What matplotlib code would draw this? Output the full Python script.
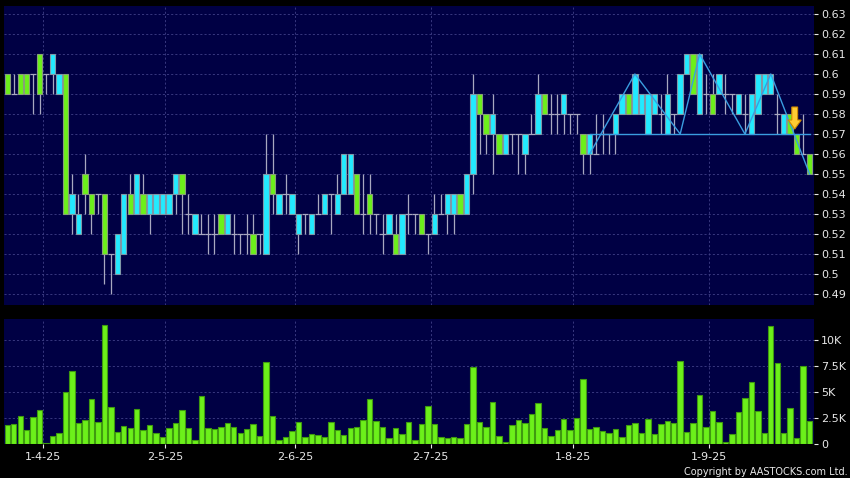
import matplotlib
matplotlib.use("Agg")
import matplotlib.pyplot as plt
from matplotlib.patches import Polygon

# daily candles: open, high, low, close
opens = [0.60, 0.59, 0.60, 0.60, 0.60, 0.61, 0.60, 0.60, 0.59, 0.60,
         0.53, 0.52, 0.55, 0.54, 0.54, 0.54, 0.51, 0.50, 0.51, 0.54,
         0.53, 0.54, 0.53, 0.53, 0.53, 0.53, 0.54, 0.55, 0.53, 0.52,
         0.52, 0.52, 0.52, 0.53, 0.52, 0.52, 0.52, 0.52, 0.52, 0.52,
         0.51, 0.55, 0.53, 0.54, 0.53, 0.52, 0.53, 0.52, 0.53, 0.53,
         0.54, 0.53, 0.54, 0.54, 0.55, 0.53, 0.54, 0.53, 0.52, 0.52,
         0.52, 0.51, 0.53, 0.53, 0.53, 0.52, 0.52, 0.53, 0.53, 0.53,
         0.54, 0.53, 0.55, 0.59, 0.58, 0.57, 0.57, 0.56, 0.57, 0.57,
         0.56, 0.57, 0.57, 0.59, 0.58, 0.58, 0.58, 0.58, 0.58, 0.57,
         0.56, 0.56, 0.57, 0.57, 0.57, 0.58, 0.59, 0.58, 0.58, 0.57,
         0.58, 0.58, 0.57, 0.58, 0.58, 0.60, 0.61, 0.58, 0.59, 0.59,
         0.59, 0.59, 0.59, 0.58, 0.58, 0.57, 0.58, 0.59, 0.59, 0.58,
         0.57, 0.58, 0.57, 0.56, 0.56]
highs = [0.60, 0.60, 0.60, 0.60, 0.60, 0.61, 0.60, 0.61, 0.60, 0.60,
         0.55, 0.54, 0.56, 0.54, 0.54, 0.54, 0.51, 0.52, 0.54, 0.55,
         0.55, 0.55, 0.54, 0.54, 0.54, 0.54, 0.55, 0.55, 0.54, 0.53,
         0.53, 0.53, 0.53, 0.53, 0.53, 0.53, 0.52, 0.53, 0.53, 0.52,
         0.57, 0.57, 0.54, 0.55, 0.54, 0.53, 0.53, 0.53, 0.54, 0.54,
         0.54, 0.55, 0.56, 0.56, 0.55, 0.55, 0.55, 0.53, 0.53, 0.53,
         0.53, 0.53, 0.54, 0.53, 0.53, 0.52, 0.54, 0.54, 0.54, 0.54,
         0.54, 0.55, 0.60, 0.59, 0.58, 0.59, 0.57, 0.57, 0.57, 0.57,
         0.57, 0.58, 0.60, 0.59, 0.59, 0.59, 0.59, 0.58, 0.58, 0.57,
         0.57, 0.58, 0.58, 0.57, 0.58, 0.59, 0.59, 0.60, 0.59, 0.59,
         0.59, 0.59, 0.60, 0.58, 0.60, 0.61, 0.61, 0.61, 0.60, 0.60,
         0.60, 0.60, 0.59, 0.59, 0.59, 0.59, 0.60, 0.60, 0.60, 0.59,
         0.58, 0.58, 0.57, 0.58, 0.56]
lows = [0.59, 0.59, 0.59, 0.59, 0.58, 0.58, 0.59, 0.59, 0.59, 0.53,
        0.52, 0.52, 0.53, 0.52, 0.53, 0.495, 0.49, 0.50, 0.51, 0.53,
        0.53, 0.53, 0.52, 0.53, 0.53, 0.53, 0.53, 0.52, 0.52, 0.52,
        0.52, 0.51, 0.51, 0.52, 0.52, 0.51, 0.51, 0.51, 0.51, 0.51,
        0.51, 0.53, 0.53, 0.53, 0.53, 0.51, 0.52, 0.52, 0.53, 0.53,
        0.52, 0.53, 0.54, 0.54, 0.53, 0.52, 0.52, 0.52, 0.51, 0.52,
        0.51, 0.51, 0.52, 0.52, 0.52, 0.51, 0.52, 0.53, 0.52, 0.52,
        0.53, 0.53, 0.54, 0.56, 0.56, 0.55, 0.56, 0.56, 0.56, 0.55,
        0.55, 0.57, 0.57, 0.58, 0.57, 0.57, 0.57, 0.57, 0.57, 0.55,
        0.55, 0.56, 0.56, 0.56, 0.56, 0.58, 0.58, 0.58, 0.58, 0.57,
        0.58, 0.57, 0.57, 0.57, 0.58, 0.60, 0.59, 0.58, 0.58, 0.58,
        0.59, 0.58, 0.58, 0.58, 0.57, 0.57, 0.58, 0.59, 0.59, 0.57,
        0.57, 0.57, 0.56, 0.56, 0.55]
closes = [0.59, 0.59, 0.59, 0.59, 0.60, 0.59, 0.60, 0.61, 0.60, 0.53,
          0.54, 0.53, 0.54, 0.53, 0.54, 0.51, 0.51, 0.52, 0.54, 0.53,
          0.55, 0.53, 0.54, 0.54, 0.54, 0.54, 0.55, 0.54, 0.53, 0.53,
          0.52, 0.52, 0.52, 0.52, 0.53, 0.52, 0.52, 0.52, 0.51, 0.52,
          0.55, 0.54, 0.54, 0.54, 0.54, 0.53, 0.53, 0.53, 0.53, 0.54,
          0.54, 0.54, 0.56, 0.56, 0.53, 0.53, 0.53, 0.53, 0.52, 0.53,
          0.51, 0.53, 0.53, 0.53, 0.52, 0.52, 0.53, 0.53, 0.54, 0.54,
          0.53, 0.55, 0.59, 0.58, 0.57, 0.58, 0.56, 0.57, 0.57, 0.57,
          0.57, 0.57, 0.59, 0.58, 0.58, 0.58, 0.59, 0.58, 0.58, 0.56,
          0.57, 0.56, 0.57, 0.57, 0.58, 0.59, 0.58, 0.60, 0.59, 0.59,
          0.59, 0.58, 0.59, 0.58, 0.60, 0.61, 0.59, 0.61, 0.59, 0.58,
          0.60, 0.59, 0.59, 0.59, 0.58, 0.59, 0.60, 0.60, 0.60, 0.58,
          0.58, 0.57, 0.56, 0.56, 0.55]

# volume in thousands of shares
volume_k = [1.77, 1.86, 2.64, 1.29, 2.57, 3.28, 0.10, 0.71, 1.06, 5.02,
            6.95, 2.00, 2.30, 4.34, 2.06, 11.4, 3.54, 1.16, 1.67, 1.48,
            3.38, 1.35, 1.83, 1.06, 0.61, 1.48, 1.96, 3.22, 1.51, 0.32,
            4.63, 1.51, 1.41, 1.58, 1.96, 1.64, 1.03, 1.38, 1.86, 0.71,
            7.88, 2.67, 0.32, 0.68, 1.19, 2.06, 0.61, 0.90, 0.87, 0.61,
            2.12, 1.35, 0.87, 1.48, 1.58, 2.25, 4.34, 2.15, 1.61, 0.58,
            1.48, 0.90, 2.09, 0.35, 1.86, 3.67, 1.86, 0.64, 0.55, 0.64,
            0.55, 1.93, 7.40, 2.12, 1.61, 4.02, 0.77, 0.16, 1.77, 2.28,
            2.00, 2.86, 3.92, 1.54, 0.77, 1.32, 2.38, 1.35, 2.44, 6.20,
            1.41, 1.64, 1.22, 1.00, 1.41, 0.64, 1.83, 2.00, 1.00, 2.35,
            0.90, 1.86, 2.22, 2.03, 7.97, 1.13, 2.00, 4.66, 1.61, 3.12,
            2.09, 0.13, 0.93, 3.05, 4.37, 5.92, 3.12, 1.06, 11.35, 7.75,
            1.03, 3.41, 0.55, 7.43, 2.19]

# month ticks: label and the bar index it sits on
tick_labels = ["1-4-25", "2-5-25", "2-6-25", "2-7-25", "1-8-25", "1-9-25"]
tick_bars = [5, 24, 44, 65, 87, 108]

# chart pattern drawn over the prices (bar index, price)
zigzag_bars = [90, 97, 104, 107, 114, 118, 124]
zigzag_prices = [0.56, 0.60, 0.57, 0.61, 0.57, 0.60, 0.55]
neckline_bars = [90, 124]
neckline_price = 0.57
signal_bar = 121.7
signal_price = 0.5725

price_ticks = [0.49, 0.50, 0.51, 0.52, 0.53, 0.54, 0.55, 0.56, 0.57, 0.58,
               0.59, 0.60, 0.61, 0.62, 0.63]
vol_ticks = [0, 2.5, 5, 7.5, 10]
vol_tick_labels = ["0", "2.5K", "5K", "7.5K", "10K"]


def main():
    bg = "#000044"
    grid_c = "#404088"
    text_c = "#e8e8e8"
    green = "#6cf01a"
    cyan = "#22eaff"
    wick_c = "#a8a8c0"

    fig = plt.figure(figsize=(8.5, 4.78), dpi=100, facecolor="black")
    ax = fig.add_axes([4 / 850, 1 - 305 / 478, 810 / 850, 299 / 478])
    axv = fig.add_axes([4 / 850, 1 - 444 / 478, 810 / 850, 125 / 478])

    n = len(closes)
    xs = list(range(n))
    grid_x = [b + 0.45 for b in tick_bars]

    for a in (ax, axv):
        a.set_facecolor(bg)
        for s in a.spines.values():
            s.set_visible(False)
        a.set_xlim(-0.51, n - 0.32)
        for gx in grid_x:
            a.axvline(gx, color=grid_c, lw=0.6, ls=(0, (2.5, 2.5)), zorder=0)
        a.yaxis.tick_right()
        a.tick_params(axis="y", colors=text_c, labelsize=8, length=3,
                      width=0.8, pad=2)

    # price panel
    ax.set_ylim(0.4845, 0.634)
    for p in price_ticks:
        ax.axhline(p, color=grid_c, lw=0.6, ls=(0, (2.5, 2.5)), zorder=0)
    ax.set_yticks(price_ticks)
    ax.set_yticklabels([("%.2f" % p).rstrip("0") for p in price_ticks])
    ax.set_xticks([])

    ax.vlines(xs, lows, highs, color=wick_c, lw=0.9, zorder=2)
    for i in xs:
        o, c = opens[i], closes[i]
        if c > o:
            ax.bar(i, c - o, bottom=o, width=0.84, color=cyan,
                   edgecolor="#7f98a8", lw=0.8, zorder=3)
        elif c < o:
            ax.bar(i, o - c, bottom=c, width=0.84, color=green,
                   edgecolor="#88a078", lw=0.8, zorder=3)
        else:
            ax.hlines(o, i - 0.5, i + 0.5, color=wick_c, lw=0.9, zorder=2)

    ax.plot(zigzag_bars, zigzag_prices, color="#3a9de0", lw=1.0, zorder=4)
    ax.plot(neckline_bars, [neckline_price] * 2, color="#3a9de0", lw=1.0,
            zorder=4)

    # down arrow signal
    sx, sy = signal_bar, signal_price
    arrow = Polygon([(sx - 0.45, sy + 0.011), (sx + 0.45, sy + 0.011),
                     (sx + 0.45, sy + 0.0045), (sx + 1.0, sy + 0.0045),
                     (sx, sy), (sx - 1.0, sy + 0.0045),
                     (sx - 0.45, sy + 0.0045)],
                    closed=True, facecolor="#ffcc33", edgecolor="#d08a00",
                    lw=0.8, zorder=5)
    ax.add_patch(arrow)

    # volume panel
    axv.set_ylim(-0.03, 12.0)
    for v in vol_ticks[1:]:
        axv.axhline(v, color=grid_c, lw=0.6, ls=(0, (2.5, 2.5)), zorder=0)
    axv.bar(xs, volume_k, width=0.84, color=green, edgecolor="#3f9a10",
            lw=0.8, zorder=3)
    axv.set_yticks(vol_ticks)
    axv.set_yticklabels(vol_tick_labels)
    axv.set_xticks(grid_x)
    axv.set_xticklabels(tick_labels)
    axv.tick_params(axis="x", colors=text_c, labelsize=8, length=3,
                    width=0.8, pad=3)

    fig.text(0.997, 0.003, "Copyright by AASTOCKS.com Ltd.", color=text_c,
             fontsize=7, ha="right", va="bottom")

    fig.savefig("out.png", dpi=100, facecolor="black")


if __name__ == "__main__":
    main()
